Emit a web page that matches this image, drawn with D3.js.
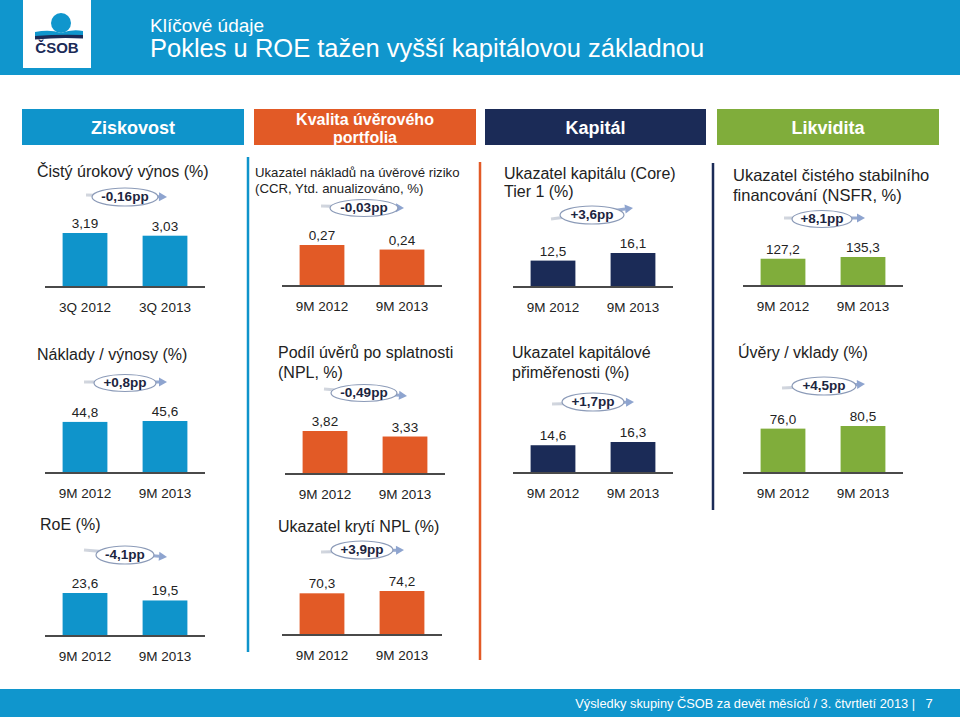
<!DOCTYPE html>
<html><head><meta charset="utf-8">
<script src="https://cdn.jsdelivr.net/npm/d3@7"></script>
<style>html,body{margin:0;padding:0;background:#fff;} svg{display:block;font-family:"Liberation Sans",Arial,sans-serif;}</style>
</head><body><svg id="c" width="960" height="717"></svg>
<script>
// ---------- data ----------
const quarterCategories = ["3Q 2012", "3Q 2013"];
const periodCategories = ["9M 2012", "9M 2013"];
const sectionTitles = [["Ziskovost"], ["Kvalita úvěrového", "portfolia"], ["Kapitál"], ["Likvidita"]];
const panelTitles = [
  ["Čistý úrokový výnos (%)"],
  ["Ukazatel nákladů na úvěrové riziko", "(CCR, Ytd. anualizováno, %)"],
  ["Ukazatel kapitálu (Core)", "Tier 1 (%)"],
  ["Ukazatel čistého stabilního", "financování (NSFR, %)"],
  ["Náklady / výnosy (%)"],
  ["Podíl úvěrů po splatnosti", "(NPL, %)"],
  ["Ukazatel kapitálové", "přiměřenosti (%)"],
  ["Úvěry / vklady (%)"],
  ["RoE (%)"],
  ["Ukazatel krytí NPL (%)"]
];
const nimValues = [3.19, 3.03];
const ccrValues = [0.27, 0.24];
const tier1Values = [12.5, 16.1];
const nsfrValues = [127.2, 135.3];
const costIncomeValues = [44.8, 45.6];
const nplValues = [3.82, 3.33];
const carValues = [14.6, 16.3];
const loanDepositValues = [76.0, 80.5];
const roeValues = [23.6, 19.5];
const nplCoverageValues = [70.3, 74.2];
const deltaLabels = ["-0,16pp", "-0,03pp", "+3,6pp", "+8,1pp", "+0,8pp", "-0,49pp", "+1,7pp", "+4,5pp", "-4,1pp", "+3,9pp"];
const valueDecimals = [2, 2, 1, 1, 1, 2, 1, 1, 1, 1];
const footerText = "Výsledky skupiny ČSOB za devět měsíců / 3. čtvrtletí 2013 |";
const pageNumber = "7";

// ---------- styles / layout ----------
const BLUE = "#0f94cb", ORANGE = "#e25a26", NAVY = "#1b2b57", GREEN = "#80ad3b";
const HEADER_BLUE = "#1096cd";
const TEXT = "#222222";

const panels = [
  {values: nimValues, cats: quarterCategories, color: BLUE, x0: 45, base: 287, hMax: 54, tx: 37, ty: 176.5, lh: 18, fs: 16,
   b: {cx: 125, cy: 197, rx: 33, ry: 9, x0: 86, y0: 195, x1: 167, y1: 197}},
  {values: ccrValues, cats: periodCategories, color: ORANGE, x0: 282, base: 286, hMax: 41, tx: 255, ty: 176.5, lh: 16, fs: 13.2,
   b: {cx: 364, cy: 208, rx: 34, ry: 8.5, x0: 321, y0: 206, x1: 404, y1: 208}},
  {values: tier1Values, cats: periodCategories, color: NAVY, x0: 513, base: 287, hMax: 34, tx: 504, ty: 178.5, lh: 18, fs: 16,
   b: {cx: 592, cy: 215, rx: 32, ry: 9, x0: 551, y0: 219, x1: 633, y1: 208}},
  {values: nsfrValues, cats: periodCategories, color: GREEN, x0: 743, base: 286, hMax: 29, tx: 733, ty: 181, lh: 20, fs: 16.5,
   b: {cx: 822, cy: 219, rx: 30, ry: 8.5, x0: 784, y0: 218, x1: 865, y1: 218}},
  {values: costIncomeValues, cats: periodCategories, color: BLUE, x0: 45, base: 473, hMax: 52, tx: 37, ty: 359.5, lh: 20, fs: 16,
   b: {cx: 125, cy: 383, rx: 31, ry: 8.5, x0: 84, y0: 382, x1: 167, y1: 382}},
  {values: nplValues, cats: periodCategories, color: ORANGE, x0: 285, base: 474, hMax: 43, tx: 278, ty: 357.5, lh: 20, fs: 16,
   b: {cx: 364, cy: 393, rx: 33, ry: 8.5, x0: 324, y0: 389, x1: 407, y1: 396}},
  {values: carValues, cats: periodCategories, color: NAVY, x0: 513, base: 473, hMax: 31, tx: 512, ty: 357.5, lh: 20, fs: 16,
   b: {cx: 593, cy: 402, rx: 31, ry: 9, x0: 552, y0: 404, x1: 634, y1: 402}},
  {values: loanDepositValues, cats: periodCategories, color: GREEN, x0: 743, base: 473, hMax: 47, tx: 738, ty: 357.5, lh: 20, fs: 16,
   b: {cx: 824, cy: 386, rx: 32, ry: 9, x0: 782, y0: 388, x1: 865, y1: 384}},
  {values: roeValues, cats: periodCategories, color: BLUE, x0: 45, base: 636, hMax: 43, tx: 40, ty: 529.5, lh: 20, fs: 16,
   b: {cx: 125, cy: 555, rx: 29, ry: 9, x0: 84, y0: 550, x1: 167, y1: 557}},
  {values: nplCoverageValues, cats: periodCategories, color: ORANGE, x0: 282, base: 635, hMax: 44, tx: 278, ty: 531.5, lh: 20, fs: 16,
   b: {cx: 362, cy: 550, rx: 31, ry: 9, x0: 321, y0: 552, x1: 404, y1: 550}}
];

const sections = [
  {x: 22, w: 222, color: BLUE, fs: 18},
  {x: 254, w: 222, color: ORANGE, fs: 16},
  {x: 485, w: 221, color: NAVY, fs: 18},
  {x: 717, w: 222, color: GREEN, fs: 18}
];

const locale = d3.formatLocale({decimal: ",", thousands: " ", grouping: [3], currency: ["", ""]});

const svg = d3.select("#c");
const defs = svg.append("defs");

// ---------- header ----------
svg.append("rect").attr("x", 0).attr("y", 0).attr("width", 960).attr("height", 75).attr("fill", HEADER_BLUE);
svg.append("rect").attr("x", 23).attr("y", 0).attr("width", 68).attr("height", 68).attr("fill", "#fff");
// logo
svg.append("circle").attr("cx", 61).attr("cy", 23).attr("r", 10).attr("fill", HEADER_BLUE);
svg.append("path").attr("d", "M35,32 Q50,29 61,33 Q72,29 83,31 L83,37 Q60,35 35,38 Z").attr("fill", HEADER_BLUE);
svg.append("path").attr("d", "M35,36 Q60,34 83,35 L83,38.5 Q60,37 35,39.5 Z").attr("fill", NAVY);
svg.append("text").attr("x", 57).attr("y", 53).attr("text-anchor", "middle").attr("font-size", 15).attr("font-weight", "bold")
  .attr("fill", NAVY).text("ČSOB");
svg.append("text").attr("x", 150).attr("y", 32).attr("font-size", 19).attr("fill", "#fff").text("Klíčové údaje");
svg.append("text").attr("x", 150).attr("y", 57).attr("font-size", 25.5).attr("fill", "#fff").text("Pokles u ROE tažen vyšší kapitálovou základnou");

// ---------- footer ----------
svg.append("rect").attr("x", 0).attr("y", 689).attr("width", 960).attr("height", 28).attr("fill", HEADER_BLUE);
svg.append("text").attr("x", 915).attr("y", 708).attr("text-anchor", "end").attr("font-size", 12.8).attr("fill", "#fff").text(footerText);
svg.append("text").attr("x", 929).attr("y", 708).attr("text-anchor", "middle").attr("font-size", 13).attr("fill", "#fff").text(pageNumber);

// ---------- section headers ----------
sections.forEach((s, i) => {
  svg.append("rect").attr("x", s.x).attr("y", 109).attr("width", s.w).attr("height", 36).attr("fill", s.color);
  const lines = sectionTitles[i];
  const t = svg.append("text").attr("text-anchor", "middle").attr("font-size", s.fs).attr("font-weight", "bold").attr("fill", "#fff");
  if (lines.length === 1) {
    t.append("tspan").attr("x", s.x + s.w / 2).attr("y", 133.5).text(lines[0]);
  } else {
    lines.forEach((l, j) => t.append("tspan").attr("x", s.x + s.w / 2).attr("y", 124.5 + j * 18).text(l));
  }
});

// ---------- column separators ----------
[[248, 157, 652, BLUE], [480, 162, 660, ORANGE], [713, 163, 510, NAVY]].forEach(d => {
  svg.append("line").attr("x1", d[0]).attr("x2", d[0]).attr("y1", d[1]).attr("y2", d[2])
    .attr("stroke", d[3]).attr("stroke-width", 2.5);
});

// ---------- panels ----------
panels.forEach((p, i) => {
  const g = svg.append("g");
  const x = d3.scaleBand().domain(p.cats).range([p.x0, p.x0 + 160]).paddingInner(0.44).paddingOuter(0.22);
  const y = d3.scaleLinear().domain([0, d3.max(p.values)]).range([p.base, p.base - p.hMax]);
  const fmt = locale.format("." + valueDecimals[i] + "f");
  const rows = p.cats.map((c, k) => ({cat: c, v: p.values[k]}));

  // title
  const t = g.append("text").attr("font-size", p.fs).attr("fill", TEXT);
  panelTitles[i].forEach((l, j) => t.append("tspan").attr("x", p.tx).attr("y", p.ty + j * p.lh).text(l));

  // bars
  g.selectAll("rect.bar").data(rows).join("rect").attr("class", "bar")
    .attr("x", d => x(d.cat)).attr("width", x.bandwidth())
    .attr("y", d => y(d.v)).attr("height", d => y(0) - y(d.v)).attr("fill", p.color);

  // value labels
  g.selectAll("text.val").data(rows).join("text").attr("class", "val")
    .attr("x", d => x(d.cat) + x.bandwidth() / 2).attr("y", d => y(d.v) - 5)
    .attr("text-anchor", "middle").attr("font-size", 13.5).attr("fill", TEXT).text(d => fmt(d.v));

  // axis (baseline + category labels)
  const axis = d3.axisBottom(x).tickSize(0).tickPadding(15);
  const ag = g.append("g").attr("transform", `translate(0,${p.base})`).call(axis);
  ag.select(".domain").attr("stroke", "#4a4a4a").attr("stroke-width", 2).attr("d", `M${p.x0},0H${p.x0 + 160}`);
  ag.selectAll(".tick text").attr("font-size", 13.5).attr("fill", TEXT)
    .attr("font-family", '"Liberation Sans",Arial,sans-serif').attr("dy", "0.71em");

  // delta badge
  const b = p.b;
  const gid = "grad" + i;
  const grad = defs.append("linearGradient").attr("id", gid).attr("gradientUnits", "userSpaceOnUse")
    .attr("x1", b.x0).attr("y1", b.y0).attr("x2", b.x1).attr("y2", b.y1);
  grad.append("stop").attr("offset", "0%").attr("stop-color", "#d3d7de");
  grad.append("stop").attr("offset", "100%").attr("stop-color", "#8ea4cf");
  const ang = Math.atan2(b.y1 - b.y0, b.x1 - b.x0);
  const hl = 8;
  const lx = b.x1 - hl * Math.cos(ang), ly = b.y1 - hl * Math.sin(ang);
  g.append("line").attr("x1", b.x0).attr("y1", b.y0).attr("x2", lx).attr("y2", ly)
    .attr("stroke", `url(#${gid})`).attr("stroke-width", 3);
  g.append("path").attr("d", `M0,-4.5L${hl},0L0,4.5Z`).attr("fill", "#8ea4cf")
    .attr("transform", `translate(${lx},${ly}) rotate(${ang * 180 / Math.PI})`);
  g.append("ellipse").attr("cx", b.cx).attr("cy", b.cy).attr("rx", b.rx).attr("ry", b.ry)
    .attr("fill", "#fff").attr("stroke", "#8c9bb8").attr("stroke-width", 1.2);
  g.append("text").attr("x", b.cx).attr("y", b.cy + 4.2).attr("text-anchor", "middle")
    .attr("font-size", 13.5).attr("font-weight", "bold").attr("fill", "#1c2540").text(deltaLabels[i]);
});
</script></body></html>
